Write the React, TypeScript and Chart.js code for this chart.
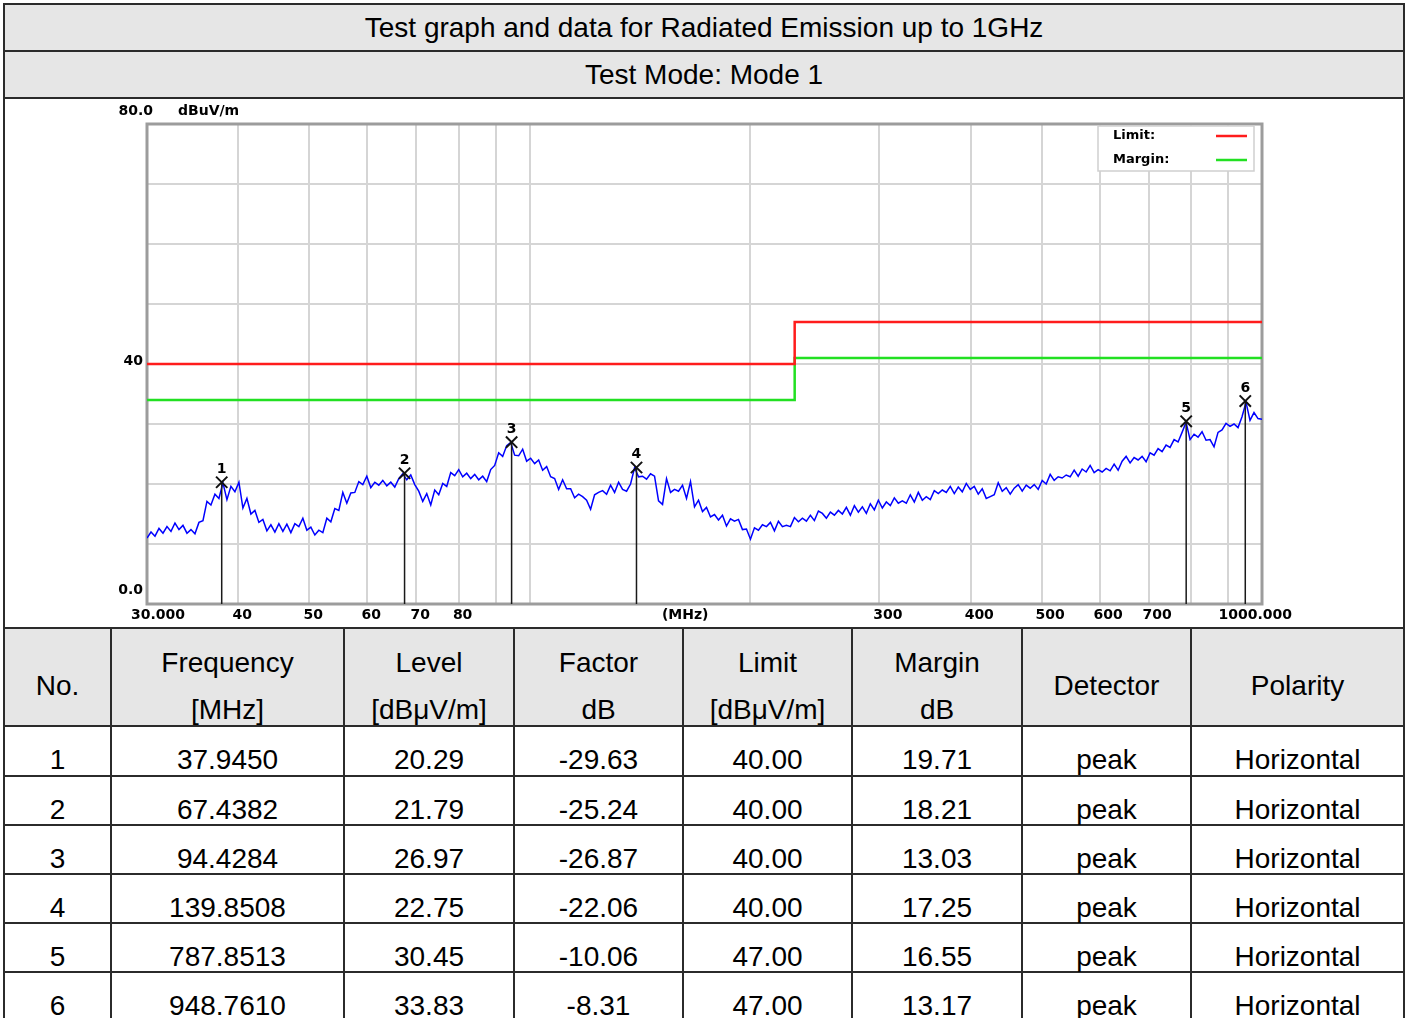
import React, { useEffect, useRef } from 'react';
import { Chart, registerables } from 'chart.js';

Chart.register(...registerables);

// ---------- texts ----------
const TITLE = 'Test graph and data for Radiated Emission up to 1GHz';
const MODE_TEXT = 'Test Mode: Mode 1';

// ---------- sweep / trace ----------
const SWEEP_START_MHZ = 30;
const SWEEP_STOP_MHZ = 1000;
const TRACE_LEVELS = [
  11.0, 12.0, 11.3, 12.6, 11.8, 12.9, 12.1, 13.5, 12.4, 13.1,
  11.8, 12.4, 11.7, 13.6, 13.9, 17.1, 16.5, 18.3, 17.6, 20.2,
  17.4, 19.6, 18.7, 20.3, 16.0, 17.6, 15.0, 15.6, 13.6, 14.1,
  12.2, 13.2, 12.0, 13.4, 12.1, 13.3, 11.9, 13.4, 12.9, 14.3,
  12.3, 12.8, 11.5, 12.3, 11.9, 14.3, 13.7, 15.9, 15.6, 18.6,
  16.8, 18.5, 18.6, 20.4, 19.9, 21.3, 19.4, 20.3, 19.8, 20.6,
  19.7, 20.3, 19.5, 20.9, 21.7, 20.7, 21.5, 19.9, 18.8, 17.1,
  18.4, 16.5, 19.0, 18.2, 20.1, 19.6, 21.9, 21.4, 22.4, 21.2,
  21.8, 20.9, 21.6, 20.7, 21.3, 20.4, 22.4, 23.1, 25.2, 24.6,
  26.4, 26.9, 24.8, 24.7, 25.8, 23.8, 24.3, 23.4, 24.0, 22.3,
  22.9, 21.2, 20.9, 19.1, 20.7, 19.2, 19.2, 17.7, 18.3, 17.9,
  17.3, 15.8, 18.2, 18.6, 18.9, 18.3, 19.8, 18.6, 20.3, 19.1,
  18.8, 20.0, 22.7, 21.2, 21.3, 20.8, 21.7, 21.3, 17.2, 16.6,
  20.9, 18.6, 19.1, 18.8, 19.8, 17.6, 20.4, 16.2, 17.3, 15.4,
  16.1, 14.5, 14.9, 14.0, 14.8, 13.0, 14.2, 13.8, 14.1, 12.4,
  12.5, 10.8, 12.7, 12.3, 13.2, 12.9, 13.6, 12.2, 13.8, 12.9,
  13.1, 12.9, 14.4, 13.7, 14.3, 13.8, 14.8, 13.9, 15.5, 15.1,
  14.3, 15.3, 14.8, 15.6, 15.0, 16.1, 14.8, 16.4, 15.3, 16.2,
  15.1, 16.7, 15.7, 17.3, 16.0, 17.0, 16.4, 17.7, 16.8, 17.2,
  16.8, 18.2, 17.0, 18.6, 17.3, 17.9, 17.4, 18.9, 18.4, 19.0,
  18.6, 19.6, 18.4, 19.5, 18.7, 20.1, 19.1, 19.6, 18.3, 19.2,
  17.6, 17.9, 18.2, 20.2, 18.8, 19.4, 18.3, 19.3, 19.9, 18.8,
  19.8, 19.3, 19.9, 19.1, 20.6, 20.0, 21.6, 20.6, 21.2, 21.0,
  21.5, 21.2, 22.3, 21.3, 22.5, 22.0, 23.1, 21.9, 22.4, 22.0,
  22.6, 22.2, 23.3, 22.3, 23.8, 24.6, 23.5, 24.4, 24.0, 24.6,
  23.7, 25.2, 24.8, 25.9, 25.4, 26.5, 26.1, 27.4, 27.0, 28.6,
  30.3, 27.4, 28.3, 27.8, 28.7, 27.3, 27.4, 26.2, 28.6, 29.0,
  30.1, 29.6, 30.0, 29.4, 31.2, 33.6, 30.6, 31.9, 30.9, 30.8,
];

// ---------- limit / margin lines ----------
const LIMIT_FREQS = [30, 230, 230, 1000];
const LIMIT_LEVELS = [40, 40, 47, 47];
const MARGIN_LEVELS = [34, 34, 41, 41];

// ---------- axes ----------
const Y_MIN = 0;
const Y_MAX = 80;
const Y_STEP = 10;
const Y_LABEL_VALUES = [80, 40, 0];
const Y_LABEL_TEXT = ['80.0', '40', '0.0'];
const Y_UNIT = 'dBuV/m';
const X_GRID_MHZ = [30, 40, 50, 60, 70, 80, 90, 100, 200, 300, 400, 500, 600, 700, 800, 900, 1000];
const X_LABEL_MHZ = [30, 40, 50, 60, 70, 80, 300, 400, 500, 600, 700, 1000];
const X_LABEL_TEXT = ['30.000', '40', '50', '60', '70', '80', '300', '400', '500', '600', '700', '1000.000'];
const X_UNIT = '(MHz)';
const X_UNIT_AT_MHZ = 163;

// ---------- markers / table ----------
const MARKER_NO = [1, 2, 3, 4, 5, 6];
const MARKER_FREQ = [37.945, 67.4382, 94.4284, 139.8508, 787.8513, 948.761];
const MARKER_LEVEL = [20.29, 21.79, 26.97, 22.75, 30.45, 33.83];
const MARKER_FACTOR = [-29.63, -25.24, -26.87, -22.06, -10.06, -8.31];
const MARKER_LIMIT = [40.0, 40.0, 40.0, 40.0, 47.0, 47.0];
const MARKER_MARGIN = [19.71, 18.21, 13.03, 17.25, 16.55, 13.17];
const MARKER_DETECTOR = ['peak', 'peak', 'peak', 'peak', 'peak', 'peak'];
const MARKER_POLARITY = ['Horizontal', 'Horizontal', 'Horizontal', 'Horizontal', 'Horizontal', 'Horizontal'];

const TABLE_HEAD: string[][] = [
  ['No.'],
  ['Frequency', '[MHz]'],
  ['Level', '[dBμV/m]'],
  ['Factor', 'dB'],
  ['Limit', '[dBμV/m]'],
  ['Margin', 'dB'],
  ['Detector'],
  ['Polarity'],
];
const COL_WIDTHS = [107, 233, 170, 169, 169, 170, 169, 213];

const CHART_FONT = '"DejaVu Sans", Verdana, sans-serif';

const overlayPlugin = {
  id: 'emcOverlay',
  beforeDatasetsDraw(chart: any) {
    const { ctx, chartArea: a } = chart;
    ctx.save();
    ctx.strokeStyle = '#9c9c9c';
    ctx.lineWidth = 3;
    ctx.strokeRect(a.left, a.top, a.right - a.left, a.bottom - a.top);
    ctx.restore();
  },
  afterDatasetsDraw(chart: any) {
    const { ctx, chartArea: a, scales } = chart;
    const xs = scales.x;
    const ys = scales.y;
    ctx.save();
    ctx.fillStyle = '#000';
    ctx.textBaseline = 'middle';

    // y labels
    ctx.font = `bold 14px ${CHART_FONT}`;
    Y_LABEL_VALUES.forEach((v, i) => {
      const py = ys.getPixelForValue(v);
      ctx.textAlign = 'right';
      if (i === 0) {
        ctx.fillText(Y_LABEL_TEXT[i], a.left + 6, py - 13);
        ctx.textAlign = 'left';
        ctx.fillText(Y_UNIT, a.left + 31, py - 13);
      } else if (v === Y_MIN) {
        ctx.fillText(Y_LABEL_TEXT[i], a.left - 4, py - 14);
      } else {
        ctx.fillText(Y_LABEL_TEXT[i], a.left - 4, py - 3);
      }
    });

    // x labels
    const ly = a.bottom + 11;
    X_LABEL_MHZ.forEach((f, i) => {
      const px = xs.getPixelForValue(f);
      if (i === 0) {
        ctx.textAlign = 'left';
        ctx.fillText(X_LABEL_TEXT[i], px - 16, ly);
      } else if (i === X_LABEL_MHZ.length - 1) {
        ctx.textAlign = 'right';
        ctx.fillText(X_LABEL_TEXT[i], px + 30, ly);
      } else {
        ctx.textAlign = 'left';
        ctx.fillText(X_LABEL_TEXT[i], px - 6, ly);
      }
    });
    ctx.textAlign = 'center';
    ctx.fillText(X_UNIT, xs.getPixelForValue(X_UNIT_AT_MHZ), ly);

    // marker numbers
    const meta = chart.getDatasetMeta(4);
    ctx.font = `bold 14px ${CHART_FONT}`;
    meta.data.forEach((pt: any, i: number) => {
      ctx.fillText(String(MARKER_NO[i]), pt.x, pt.y - 13);
    });

    // legend box
    const bx = a.right - 164;
    const by = a.top + 2;
    ctx.fillStyle = '#fff';
    ctx.fillRect(bx, by, 156, 45);
    ctx.strokeStyle = '#cfcfcf';
    ctx.lineWidth = 1.5;
    ctx.strokeRect(bx, by, 156, 45);
    ctx.font = `bold 13px ${CHART_FONT}`;
    ctx.textAlign = 'left';
    [1, 2].forEach((di, k) => {
      const ds = chart.data.datasets[di];
      const yy = by + 10 + k * 24;
      ctx.fillStyle = '#000';
      ctx.fillText(ds.label, bx + 15, yy);
      ctx.strokeStyle = ds.borderColor;
      ctx.lineWidth = 2.5;
      ctx.beginPath();
      ctx.moveTo(a.right - 46, yy);
      ctx.lineTo(a.right - 15, yy);
      ctx.stroke();
    });
    ctx.restore();
  },
};

function EmcChart() {
  const ref = useRef<HTMLCanvasElement | null>(null);
  useEffect(() => {
    if (!ref.current) return;
    const n = TRACE_LEVELS.length;
    const trace = TRACE_LEVELS.map((v, i) => ({
      x: SWEEP_START_MHZ * Math.pow(SWEEP_STOP_MHZ / SWEEP_START_MHZ, i / (n - 1)),
      y: v,
    }));
    const limit = LIMIT_FREQS.map((f, i) => ({ x: f, y: LIMIT_LEVELS[i] }));
    const margin = LIMIT_FREQS.map((f, i) => ({ x: f, y: MARGIN_LEVELS[i] }));
    const stems: any[] = [];
    MARKER_FREQ.forEach((f, i) => {
      stems.push({ x: f, y: Y_MIN }, { x: f, y: MARKER_LEVEL[i] }, { x: f, y: null });
    });
    const crosses = MARKER_FREQ.map((f, i) => ({ x: f, y: MARKER_LEVEL[i] }));

    const gridOpts = { color: '#d5d5d5', lineWidth: 2, drawTicks: false };
    const chart = new Chart(ref.current, {
      type: 'line',
      data: {
        datasets: [
          { label: 'Trace', data: trace, borderColor: '#0000ff', borderWidth: 1.5, pointRadius: 0, tension: 0, order: 3 },
          { label: 'Limit:', data: limit, borderColor: '#ff1c1c', borderWidth: 2.5, pointRadius: 0, tension: 0, order: 4 },
          { label: 'Margin:', data: margin, borderColor: '#22e022', borderWidth: 2.5, pointRadius: 0, tension: 0, order: 5 },
          { label: 'Marker lines', data: stems, borderColor: '#1a1a1a', borderWidth: 1.5, pointRadius: 0, spanGaps: false, tension: 0, order: 2 },
          {
            label: 'Markers', data: crosses, showLine: false, pointStyle: 'crossRot', pointRadius: 8,
            pointBorderWidth: 2, pointBorderColor: '#111', pointBackgroundColor: '#111', borderColor: '#111', order: 1,
          },
        ],
      } as any,
      options: {
        animation: false,
        responsive: false,
        events: [],
        layout: { padding: { left: 142, top: 25, right: 140, bottom: 23 } },
        plugins: { legend: { display: false }, tooltip: { enabled: false }, title: { display: false } },
        scales: {
          x: {
            type: 'logarithmic',
            min: SWEEP_START_MHZ,
            max: SWEEP_STOP_MHZ,
            afterBuildTicks: (s: any) => { s.ticks = X_GRID_MHZ.map((v) => ({ value: v })); },
            ticks: { display: false },
            grid: gridOpts,
            border: { display: false },
          },
          y: {
            type: 'linear',
            min: Y_MIN,
            max: Y_MAX,
            ticks: { display: false, stepSize: Y_STEP },
            grid: gridOpts,
            border: { display: false },
          },
        },
      } as any,
      plugins: [overlayPlugin],
    });
    return () => chart.destroy();
  }, []);
  return <canvas ref={ref} width={1397} height={528} style={{ width: 1397, height: 528, display: 'block' }} />;
}

export default function App() {
  const bd = '2px solid #2b2b2b';
  const cell: React.CSSProperties = {
    border: bd, padding: 0, textAlign: 'center', verticalAlign: 'middle', whiteSpace: 'nowrap', overflow: 'visible',
  };
  const gray = '#e6e6e6';
  return (
    <div style={{ position: 'absolute', left: 0, top: 0, width: 1409, height: 1018, overflow: 'hidden', background: '#fff' }}>
      <table
        style={{
          position: 'absolute', left: 3, top: 3, borderCollapse: 'collapse', tableLayout: 'fixed', width: 1400,
          fontFamily: '"Liberation Sans", Arial, sans-serif', fontSize: 28, color: '#000',
        }}
      >
        <colgroup>
          {COL_WIDTHS.map((w, i) => <col key={i} style={{ width: w }} />)}
        </colgroup>
        <tbody>
          <tr><td colSpan={8} style={{ ...cell, height: 45, background: gray }}>{TITLE}</td></tr>
          <tr><td colSpan={8} style={{ ...cell, height: 45, background: gray }}>{MODE_TEXT}</td></tr>
          <tr><td colSpan={8} style={{ ...cell, height: 528, background: '#fff' }}></td></tr>
          <tr>
            {TABLE_HEAD.map((lines, i) => (
              <td key={i} style={{ ...cell, height: 96, background: gray }}>
                <div style={{ position: 'relative', top: 9, lineHeight: lines.length > 1 ? '47px' : 'normal' }}>
                  {lines.map((l, k) => <div key={k}>{l}</div>)}
                </div>
              </td>
            ))}
          </tr>
          {MARKER_NO.map((no, r) => {
            const vals = [
              String(no),
              MARKER_FREQ[r].toFixed(4),
              MARKER_LEVEL[r].toFixed(2),
              MARKER_FACTOR[r].toFixed(2),
              MARKER_LIMIT[r].toFixed(2),
              MARKER_MARGIN[r].toFixed(2),
              MARKER_DETECTOR[r],
              MARKER_POLARITY[r],
            ];
            return (
              <tr key={r}>
                {vals.map((v, c) => (
                  <td key={c} style={{ ...cell, height: r === 0 ? 48 : 47 }}>
                    <span style={{ position: 'relative', top: 9 }}>{v}</span>
                  </td>
                ))}
              </tr>
            );
          })}
        </tbody>
      </table>
      <div style={{ position: 'absolute', left: 5, top: 99, width: 1397, height: 528 }}>
        <EmcChart />
      </div>
    </div>
  );
}
